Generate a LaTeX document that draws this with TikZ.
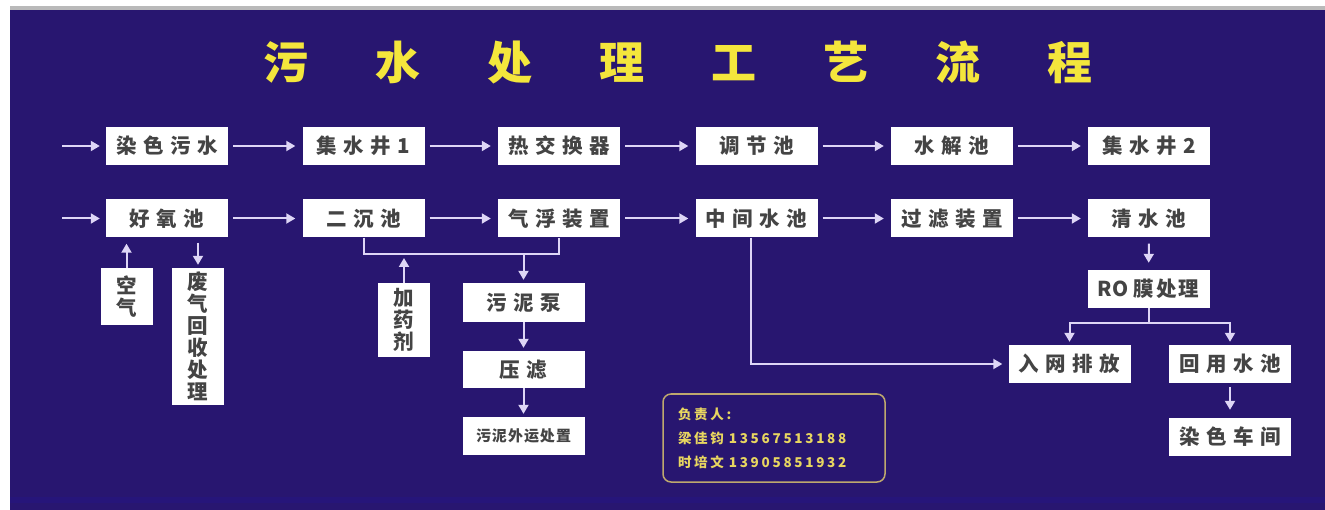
\documentclass[tikz,border=0pt]{standalone}
\usepackage{fontspec}
\usetikzlibrary{arrows.meta}
\newfontfamily\cjk{Noto Sans CJK SC}
\newfontfamily\cjkls[LetterSpace=20]{Noto Sans CJK SC}
\definecolor{bgblue}{RGB}{40,22,112}
\definecolor{bandblue}{RGB}{38,21,122}
\definecolor{arrowc}{RGB}{222,214,246}
\definecolor{boxtext}{RGB}{68,68,68}
\definecolor{titley}{RGB}{244,230,60}
\definecolor{contacty}{RGB}{232,214,96}
\definecolor{framec}{RGB}{190,168,110}
\newcommand\ls{\hspace{6.5pt}}
\newcommand\tls{\hspace{67pt}}
\tikzset{
  proc/.style={fill=white, minimum width=122pt, minimum height=38pt, inner sep=0pt,
    text=boxtext, font=\cjk\bfseries\fontsize{20.5}{22}\selectfont},
  vproc/.style={proc, minimum width=52pt, align=center},
  arr/.style={draw=arrowc, line width=2pt, -{Triangle[length=9pt,width=10pt]},
    shorten >=7pt, shorten <=5pt},
  link/.style={draw=arrowc, line width=2pt},
}
\begin{document}
\begin{tikzpicture}[x=1pt,y=-1pt]
\useasboundingbox (0,0) rectangle (1325,510);
\fill[white] (0,0) rectangle (1325,510);
\fill[gray!55] (10,6) rectangle (1325,10);
\fill[bgblue] (10,10) rectangle (1325,510);
\fill[bandblue] (10,497) rectangle (1325,503);

% title
\node[text=titley, font=\cjk\bfseries\fontsize{45}{45}\selectfont] (title) at (678,62)
  {污\tls 水\tls 处\tls 理\tls 工\tls 艺\tls 流\tls 程};

% row 1
\node[proc] (n1) at (167,146) {染\ls 色\ls 污\ls 水};
\node[proc] (n2) at (363.5,146) {集\ls 水\ls 井\ls 1};
\node[proc] (n3) at (559,146) {热\ls 交\ls 换\ls 器};
\node[proc] (n4) at (756.5,146) {调\ls 节\ls 池};
\node[proc] (n5) at (952,146) {水\ls 解\ls 池};
\node[proc] (n6) at (1149,146) {集\ls 水\ls 井\ls 2};

% row 2
\node[proc] (m1) at (167,218.5) {好\ls 氧\ls 池};
\node[proc] (m2) at (363.5,218.5) {二\ls 沉\ls 池};
\node[proc] (m3) at (559,218.5) {气\ls 浮\ls 装\ls 置};
\node[proc] (m4) at (756.5,218.5) {中\ls 间\ls 水\ls 池};
\node[proc] (m5) at (952,218.5) {过\ls 滤\ls 装\ls 置};
\node[proc] (m6) at (1149,218.5) {清\ls 水\ls 池};

% side boxes
\node[vproc, minimum height=57pt] (air) at (126.5,296.5) {空\\气};
\node[vproc, minimum height=137pt] (gas) at (198,336.5) {废\\气\\回\\收\\处\\理};
\node[vproc, minimum height=74pt] (dose) at (404,320) {加\\药\\剂};
\node[proc, minimum height=39pt] (pump) at (523.5,302.5) {污\ls 泥\ls 泵};
\node[proc, minimum height=37pt] (press) at (523.5,369.5) {压\ls 滤};
\node[proc, font=\cjk\bfseries\fontsize{15}{18}\selectfont] (sludge) at (523.5,436) {污\hspace{1pt}泥\hspace{1pt}外\hspace{1pt}运\hspace{1pt}处\hspace{1pt}置};

\node[proc] (ro) at (1148.5,289) {RO\hspace{5pt}膜\hspace{2pt}处\hspace{2pt}理};
\node[proc] (dis) at (1069.5,364) {入\ls 网\ls 排\ls 放};
\node[proc] (reuse) at (1230,364) {回\ls 用\ls 水\ls 池};
\node[proc] (shop) at (1230,437) {染\ls 色\ls 车\ls 间};

% contact box
\node[draw=framec, line width=1.5pt, rounded corners=8pt, minimum width=222pt,
  minimum height=88pt, inner xsep=15pt, text width=192pt, align=left,
  text=contacty, font=\cjkls\bfseries\fontsize{13.5}{24}\selectfont] (contact) at (774,438)
  {负责人:\\梁佳钧\hspace{5pt}13567513188\\时培文\hspace{5pt}13905851932};

% incoming arrows
\coordinate (in1) at (62,146);
\coordinate (in2) at (62,218.5);
\draw[arr, shorten <=0pt, shorten >=6pt] (in1) -- (n1.west);
\draw[arr, shorten <=0pt, shorten >=6pt] (in2) -- (m1.west);

% row arrows
\draw[arr] (n1) -- (n2);
\draw[arr] (n2) -- (n3);
\draw[arr] (n3) -- (n4);
\draw[arr] (n4) -- (n5);
\draw[arr] (n5) -- (n6);
\draw[arr] (m1) -- (m2);
\draw[arr] (m2) -- (m3);
\draw[arr] (m3) -- (m4);
\draw[arr] (m4) -- (m5);
\draw[arr] (m5) -- (m6);

% aerobic tank
\draw[arr, shorten <=0pt, shorten >=6pt] (air.north) -- (air.north |- m1.south);
\draw[arr, shorten <=5pt, shorten >=3pt] (gas.north |- m1.south) -- (gas.north);

% sedimentation / flotation bracket
\coordinate (bl) at (363.5,254);
\coordinate (br) at (559,254);
\coordinate (bs) at (523.5,254);
\coordinate (bd) at (404,254);
\draw[link] (m2.south) -- (bl) -- (br) -- (m3.south);
\draw[arr, shorten <=0pt, shorten >=4pt] (dose.north) -- (bd);
\draw[arr, shorten <=0pt, shorten >=3pt] (bs) -- (pump.north);
\draw[arr, shorten <=0pt, shorten >=3pt] (pump) -- (press);
\draw[arr, shorten <=0pt, shorten >=3pt] (press) -- (sludge);

% middle tank to discharge
\draw[arr, shorten <=0pt, shorten >=6pt] ([xshift=-6pt]m4.south) |- (dis.west);

% clear water / RO
\draw[arr, shorten <=6pt, shorten >=7pt] (m6) -- (ro);
\coordinate (split) at (1148.5,323);
\draw[link] (ro.south) -- (split);
\draw[arr, shorten <=0pt, shorten >=3pt] (split) -| (dis.north);
\draw[arr, shorten <=0pt, shorten >=3pt] (split) -| (reuse.north);
\draw[arr, shorten <=4pt, shorten >=8pt] (reuse) -- (shop);
\end{tikzpicture}
\end{document}
